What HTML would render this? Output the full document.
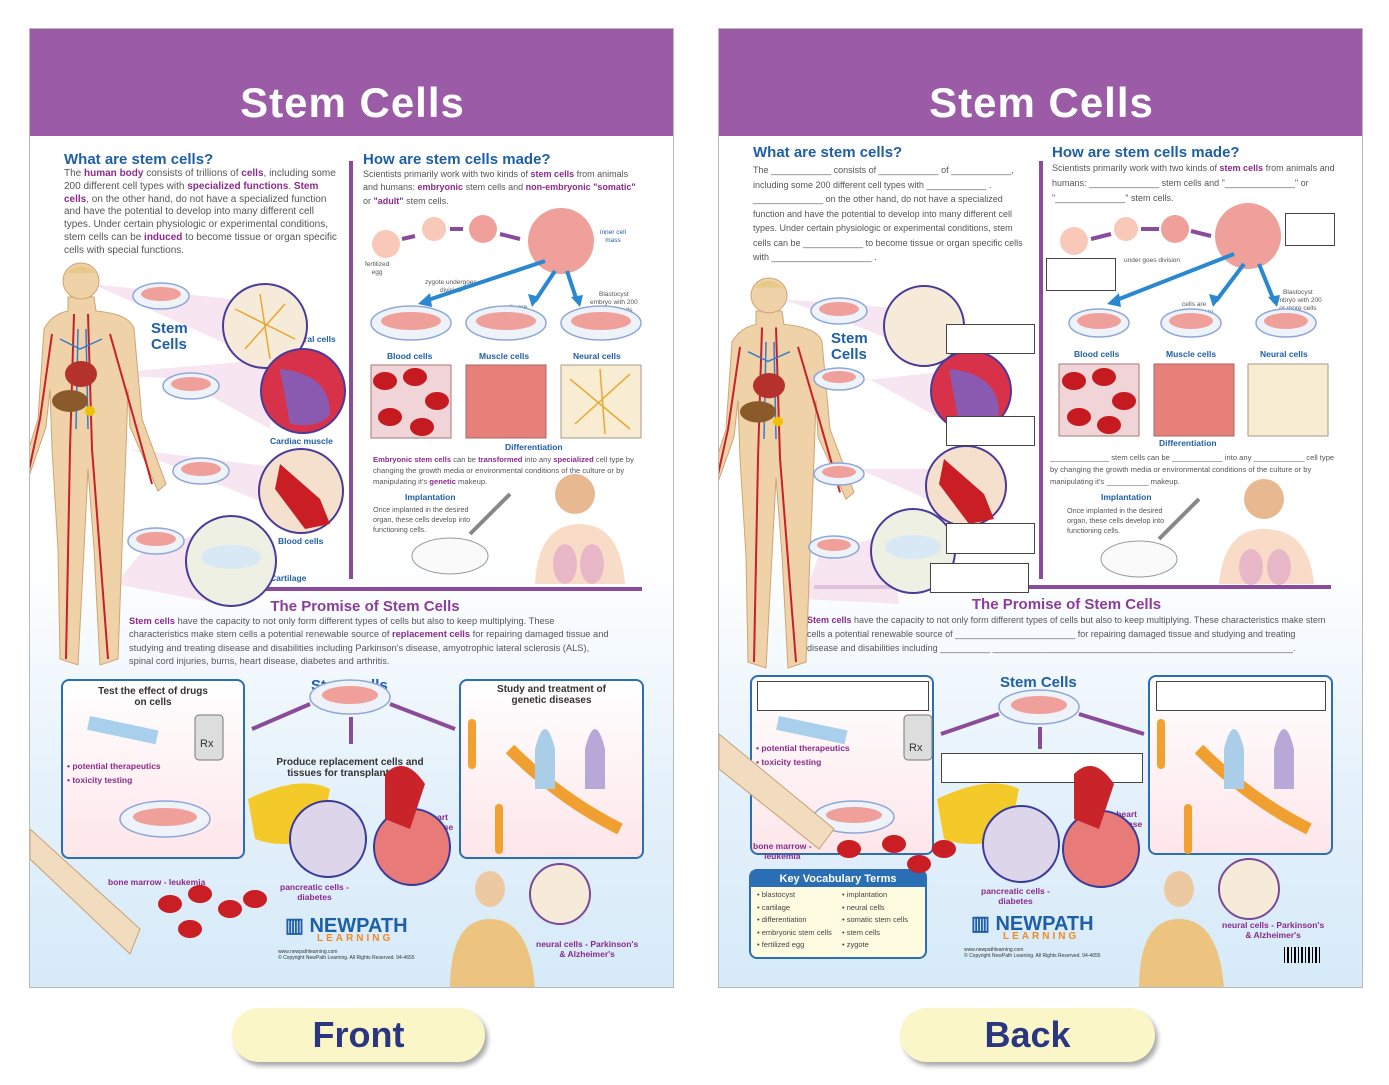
<!DOCTYPE html>
<html><head><meta charset="utf-8"><style>
*{margin:0;padding:0;box-sizing:border-box}
body{width:1389px;height:1085px;background:#fff;position:relative;overflow:hidden;font-family:"Liberation Sans",sans-serif}
.p{position:absolute;top:28px;width:645px;height:960px;border:1px solid #b9b9b9;background:linear-gradient(#fff 0,#fff 55%,#e4f1fb 80%,#d6eaf8 100%);overflow:hidden}
.hd{position:absolute;left:0;top:0;width:645px;height:107px;background:#9b5ba7}
.tt{position:absolute;left:0;width:645px;top:50px;text-align:center;color:#fff;font:bold 42px "Liberation Sans",sans-serif;letter-spacing:1px}
.a{position:absolute}
.h{color:#1f5fa6;font-weight:bold;font-size:15px}
.t{color:#555;font-size:9px;line-height:13.3px}
.t b{color:#8c2a8c}
.pr{color:#8a3e9a;font-weight:bold;font-size:15px}
.lb{color:#8a2a8a;font-size:8.5px;font-weight:bold}
.bl{color:#1f5fa6;font-size:8.5px;font-weight:bold}
.sm{color:#555;font-size:6.5px;line-height:8px;text-align:center}
.btn{position:absolute;top:1008px;height:54px;border-radius:27px;background:#fbf6c8;box-shadow:3px 4px 5px #aaa;text-align:center;font:bold 36px/54px "Liberation Sans",sans-serif;color:#2a3680}
.box{position:absolute;border:2.5px solid #2a6fb5;border-radius:8px;background:linear-gradient(#fff,#fde6ea)}
.wb{position:absolute;border:1.5px solid #444;background:#fff}
</style></head><body>

<svg width="0" height="0" style="position:absolute"><defs>
<g id="body">
<path d="M38 268 L64 268 L66 282 Q100 285 104 300 L112 390 L136 455 L128 462 L100 398 L98 360 L96 420 L92 520 L88 630 L70 636 L64 520 L58 440 L54 520 L48 636 L30 630 L28 520 L22 420 L20 360 L16 398 L-6 462 L-12 455 L8 390 L14 300 Q22 285 38 282Z" fill="#f0d2a8" stroke="#cfa474"/>
<circle cx="51" cy="252" r="18" fill="#f0d2a8" stroke="#cfa474"/>
<path d="M36 244 Q51 230 66 244Z" fill="#e9c98a"/>
<g stroke="#c8202a" stroke-width="2" fill="none"><path d="M44 285 L40 420 L36 630 M58 285 L62 420 L78 630 M22 305 L10 390 L-4 455 M80 305 L104 390 L122 455"/></g>
<g stroke="#3a7ac8" stroke-width="1.5" fill="none"><path d="M48 300 L46 400 M56 300 L58 400 M30 310 L50 320 L72 310"/></g>
<ellipse cx="51" cy="345" rx="16" ry="13" fill="#b5322c"/>
<ellipse cx="40" cy="372" rx="18" ry="11" fill="#8b5a2a"/>
<circle cx="60" cy="382" r="5" fill="#f2c200"/>
</g>
</defs></svg>

<!-- FRONT -->
<div class="p" style="left:29px">
<div class="hd"></div><div class="tt">Stem Cells</div>
<div class="a h" style="left:34px;top:122px">What are stem cells?</div>
<div class="a t" style="left:34px;top:139px;width:275px;font-size:10px;line-height:12.8px">The <b>human body</b> consists of trillions of <b>cells</b>, including some 200 different cell types with <b>specialized functions</b>. <b>Stem cells</b>, on the other hand, do not have a specialized function and have the potential to develop into many different cell types. Under certain physiologic or experimental conditions, stem cells can be <b>induced</b> to become tissue or organ specific cells with special functions.</div>
<div class="a h" style="left:333px;top:122px">How are stem cells made?</div>
<div class="a t" style="left:333px;top:139px;width:280px">Scientists primarily work with two kinds of <b>stem cells</b> from animals and humans: <b>embryonic</b> stem cells and <b>non-embryonic "somatic"</b> or <b>"adult"</b> stem cells.</div>
<div class="a pr" style="left:0;width:645px;text-align:center;top:569px;padding-left:25px">The Promise of Stem Cells</div>
<div class="a t" style="left:99px;top:586px;width:480px;font-size:9.3px"><b>Stem cells</b> have the capacity to not only form different types of cells but also to keep multiplying. These characteristics make stem cells a potential renewable source of <b>replacement cells</b> for repairing damaged tissue and studying and treating disease and disabilities including Parkinson's disease, amyotrophic lateral sclerosis (ALS), spinal cord injuries, burns, heart disease, diabetes and arthritis.</div>
<div class="box" style="left:31px;top:650px;width:184px;height:180px"></div>
<div class="box" style="left:429px;top:650px;width:185px;height:180px"></div>
<div class="a lb" style="left:31px;top:657px;width:184px;text-align:center;color:#333;font-size:10px">Test the effect of drugs<br>on cells</div>
<div class="a lb" style="left:429px;top:655px;width:185px;text-align:center;color:#333;font-size:10px">Study and treatment of<br>genetic diseases</div>
<div class="a lb" style="left:230px;top:728px;width:180px;text-align:center;color:#333;font-size:10px">Produce replacement cells and<br>tissues for transplantation</div>
<div class="a lb" style="left:37px;top:730px;line-height:14px">• potential therapeutics<br>• toxicity testing</div>
<div class="a" style="left:281px;top:648px;font-size:15px;color:#1f5fa6;font-weight:bold">Stem Cells</div>
<div class="a" style="left:121px;top:292px;font-size:15px;color:#1f5fa6;font-weight:bold;line-height:16px">Stem<br>Cells</div>
<div class="a bl" style="left:258px;top:305px">Neural cells</div>
<div class="a bl" style="left:240px;top:407px">Cardiac muscle</div>
<div class="a bl" style="left:248px;top:507px">Blood cells</div>
<div class="a bl" style="left:240px;top:544px">Cartilage</div>
<div class="a bl" style="left:357px;top:322px">Blood cells</div>
<div class="a bl" style="left:449px;top:322px">Muscle cells</div>
<div class="a bl" style="left:543px;top:322px">Neural cells</div>
<div class="a bl" style="left:475px;top:413px">Differentiation</div>
<div class="a t" style="left:343px;top:425px;width:270px;font-size:7.6px;line-height:11px"><b>Embryonic stem cells</b> can be <b>transformed</b> into any <b>specialized</b> cell type by changing the growth media or environmental conditions of the culture or by manipulating it's <b>genetic</b> makeup.</div>
<div class="a bl" style="left:375px;top:463px">Implantation</div>
<div class="a t" style="left:343px;top:476px;width:110px;font-size:7.2px;line-height:10px">Once implanted in the desired organ, these cells develop into functioning cells.</div>
<div class="a sm" style="left:335px;top:232px">fertilized<br>egg</div>
<div class="a sm" style="left:395px;top:250px">zygote undergoes<br>division</div>
<div class="a sm" style="left:570px;top:200px;color:#1f5fa6">inner cell<br>mass</div>
<div class="a sm" style="left:560px;top:262px">Blastocyst<br>embryo with 200<br>or more cells</div>
<div class="a sm" style="left:465px;top:275px">cells are<br>transferred to<br>cultured ishes</div>
<div class="a lb" style="left:78px;top:848px">bone marrow - leukemia</div>
<div class="a lb" style="left:250px;top:853px;text-align:center">pancreatic cells -<br>diabetes</div>
<div class="a lb" style="left:392px;top:783px;text-align:center">heart<br>disease</div>
<div class="a lb" style="left:506px;top:910px;text-align:center">neural cells - Parkinson's<br>&amp; Alzheimer's</div>
<div class="a" style="left:255px;top:884px;font:bold 20px 'Liberation Sans';color:#1f5fa6">▥ NEWPATH</div>
<div class="a" style="left:287px;top:904px;font:bold 10px 'Liberation Sans';color:#f08a1c;letter-spacing:3px">LEARNING</div>
<div class="a" style="left:248px;top:920px;font-size:5px;color:#333">www.newpathlearning.com<br>© Copyright NewPath Learning. All Rights Reserved. 94-4655</div>
<svg class="a" style="left:0;top:0" width="645" height="960">
<line x1="321" y1="132" x2="321" y2="550" stroke="#8a4c9a" stroke-width="4"/>
<line x1="170" y1="560" x2="612" y2="560" stroke="#8a4c9a" stroke-width="4"/>
<g fill="#f6e0ee" opacity=".8"><path d="M62 255 L200 270 L230 330 L130 285Z"/><path d="M70 345 L150 350 L240 400 L245 330Z"/><path d="M100 420 L150 440 L250 480 L260 440Z"/><path d="M85 555 L110 525 L180 500 L190 575Z"/></g>
<use href="#body"/>
<g stroke="#8fa7d8" fill="#eef3fa" stroke-width="1.5"><ellipse cx="131" cy="267" rx="28" ry="13"/><ellipse cx="161" cy="357" rx="28" ry="13"/><ellipse cx="171" cy="442" rx="28" ry="13"/><ellipse cx="126" cy="512" rx="28" ry="13"/><ellipse cx="381" cy="294" rx="40" ry="17"/><ellipse cx="476" cy="294" rx="40" ry="17"/><ellipse cx="571" cy="294" rx="40" ry="17"/><ellipse cx="320" cy="668" rx="40" ry="17"/><ellipse cx="135" cy="790" rx="45" ry="18"/></g>
<g fill="#f0a09a"><ellipse cx="131" cy="265" rx="20" ry="7"/><ellipse cx="161" cy="355" rx="20" ry="7"/><ellipse cx="171" cy="440" rx="20" ry="7"/><ellipse cx="126" cy="510" rx="20" ry="7"/><ellipse cx="381" cy="292" rx="30" ry="9"/><ellipse cx="476" cy="292" rx="30" ry="9"/><ellipse cx="571" cy="292" rx="30" ry="9"/><ellipse cx="320" cy="666" rx="28" ry="9"/><ellipse cx="135" cy="788" rx="32" ry="9"/><circle cx="531" cy="212" r="33"/><circle cx="356" cy="215" r="14" fill="#f8c8b8"/><circle cx="404" cy="200" r="12" fill="#f8c8b8"/><circle cx="453" cy="200" r="14"/></g>
<g stroke="#4a3a9a" stroke-width="2"><circle cx="235" cy="297" r="42" fill="#f6ead8"/><circle cx="273" cy="362" r="42" fill="#d8324a"/><circle cx="271" cy="462" r="42" fill="#f4e0cc"/><circle cx="201" cy="532" r="45" fill="#eef0e4"/></g>
<path d="M250 340 Q300 345 300 385 Q290 400 260 395Z" fill="#8a5ab0"/><path d="M250 435 L290 470 L300 495 L275 500 L245 460Z" fill="#c81e24"/><ellipse cx="201" cy="528" rx="30" ry="12" fill="#d8e8f4"/>
<g stroke="#e8a830" stroke-width="1.5" fill="none"><path d="M205 280 L265 310 M215 320 L255 275 M230 265 L240 330"/></g>
<rect x="341" y="336" width="80" height="73" fill="#f0d4d8" stroke="#a77"/><g fill="#c41a20"><ellipse cx="355" cy="352" rx="12" ry="9"/><ellipse cx="385" cy="348" rx="12" ry="9"/><ellipse cx="407" cy="372" rx="12" ry="9"/><ellipse cx="360" cy="388" rx="12" ry="9"/><ellipse cx="392" cy="398" rx="12" ry="9"/></g>
<rect x="436" y="336" width="80" height="73" fill="#e8807a" stroke="#a66"/>
<rect x="531" y="336" width="80" height="73" fill="#f8ecd2" stroke="#a98"/>
<g stroke="#e8a830" stroke-width="1.5" fill="none"><path d="M540 350 L600 400 M545 395 L600 345 M570 340 L575 405"/></g>
<g stroke="#2a88d0" stroke-width="4" fill="none"><line x1="515" y1="232" x2="395" y2="272"/><line x1="525" y1="242" x2="505" y2="272"/><line x1="537" y1="242" x2="547" y2="272"/></g>
<g fill="#2a88d0"><path d="M388 275 L400 264 L402 278Z"/><path d="M502 278 L498 265 L510 268Z"/><path d="M550 278 L541 268 L553 266Z"/></g>
<g stroke="#8a4c9a" stroke-width="4"><line x1="372" y1="210" x2="385" y2="207"/><line x1="420" y1="200" x2="433" y2="200"/><line x1="470" y1="205" x2="490" y2="210"/><line x1="280" y1="675" x2="222" y2="700"/><line x1="360" y1="675" x2="425" y2="700"/><line x1="321" y1="688" x2="321" y2="715"/></g>
<ellipse cx="545" cy="465" rx="20" ry="20" fill="#e8b890"/><path d="M505 555 Q508 495 550 495 Q590 495 595 555Z" fill="#f8dcc8"/><ellipse cx="535" cy="535" rx="12" ry="20" fill="#e8b8c8"/><ellipse cx="562" cy="535" rx="12" ry="20" fill="#e8b8c8"/>
<ellipse cx="420" cy="527" rx="38" ry="18" fill="#fafafa" stroke="#999"/><line x1="440" y1="505" x2="480" y2="465" stroke="#888" stroke-width="4"/>
<rect x="60" y="687" width="70" height="14" fill="#a8cfec" transform="rotate(12 60 687)"/>
<rect x="165" y="686" width="28" height="45" rx="4" fill="#ddd" stroke="#777"/><text x="170" y="718" font-size="11" fill="#333">Rx</text>
<g fill="#f4c92a"><path d="M218 770 Q270 745 300 760 L290 810 Q250 820 225 810Z"/></g>
<circle cx="298" cy="810" r="38" fill="#ddd6ea" stroke="#3a3a9a" stroke-width="2"/>
<circle cx="382" cy="818" r="38" fill="#e87a78" stroke="#3a3a9a" stroke-width="2"/>
<path d="M355 745 Q375 725 395 755 L380 800 L355 790Z" fill="#c8242a"/>
<g fill="#f2a030"><rect x="438" y="690" width="8" height="50" rx="4"/><rect x="465" y="775" width="8" height="50" rx="4"/></g>
<path d="M480 720 Q530 770 590 800" stroke="#f0a030" stroke-width="12" fill="none"/>
<path d="M505 720 q10 -40 20 0 v40 h-20z" fill="#aacde8"/><path d="M555 720 q10 -40 20 0 v40 h-20z" fill="#b8a8d8"/>
<path d="M0 800 L110 900 L100 925 L0 830Z" fill="#f2dcc0" stroke="#c9a070"/>
<g fill="#c81e24"><ellipse cx="140" cy="875" rx="12" ry="9"/><ellipse cx="170" cy="865" rx="12" ry="9"/><ellipse cx="200" cy="880" rx="12" ry="9"/><ellipse cx="160" cy="900" rx="12" ry="9"/><ellipse cx="225" cy="870" rx="12" ry="9"/></g>
<ellipse cx="460" cy="860" rx="15" ry="18" fill="#ecc9a0"/><path d="M420 960 Q420 890 460 890 Q500 890 505 960Z" fill="#ecc480"/>
<circle cx="530" cy="865" r="30" fill="#f6ead8" stroke="#7a4a9a" stroke-width="2"/>
</svg>
</div>

<!-- BACK -->
<div class="p" style="left:718px">
<div class="hd"></div><div class="tt">Stem Cells</div>
<div class="a h" style="left:34px;top:115px">What are stem cells?</div>
<div class="a t" style="left:34px;top:134px;width:280px;line-height:14.5px">The ____________ consists of ____________ of ____________, including some 200 different cell types with ____________ . ______________ on the other hand, do not have a specialized function and have the potential to develop into many different cell types. Under certain physiologic or experimental conditions, stem cells can be ____________ to become tissue or organ specific cells with ____________________ .</div>
<div class="a h" style="left:333px;top:115px">How are stem cells made?</div>
<div class="a t" style="left:333px;top:132px;width:290px;line-height:15px">Scientists primarily work with two kinds of <b>stem cells</b> from animals and humans: ______________ stem cells and "______________" or "______________" stem cells.</div>
<div class="a pr" style="left:0;width:645px;text-align:center;top:567px;padding-left:50px">The Promise of Stem Cells</div>
<div class="a t" style="left:88px;top:584px;width:520px;line-height:14px"><b>Stem cells</b> have the capacity to not only form different types of cells but also to keep multiplying. These characteristics make stem cells a potential renewable source of ________________________ for repairing damaged tissue and studying and treating disease and disabilities including __________ ____________________________________________________________.</div>
<div class="box" style="left:31px;top:646px;width:184px;height:180px"></div>
<div class="box" style="left:429px;top:646px;width:185px;height:180px"></div>
<div class="wb" style="left:38px;top:652px;width:172px;height:30px"></div>
<div class="wb" style="left:437px;top:652px;width:170px;height:30px"></div>
<div class="wb" style="left:222px;top:724px;width:202px;height:30px"></div>
<div class="a lb" style="left:37px;top:712px;line-height:14px">• potential therapeutics<br>• toxicity testing</div>
<div class="a" style="left:281px;top:645px;font-size:15px;color:#1f5fa6;font-weight:bold">Stem Cells</div>
<div class="a" style="left:112px;top:302px;font-size:15px;color:#1f5fa6;font-weight:bold;line-height:16px">Stem<br>Cells</div>
<div class="a bl" style="left:355px;top:320px">Blood cells</div>
<div class="a bl" style="left:447px;top:320px">Muscle cells</div>
<div class="a bl" style="left:541px;top:320px">Neural cells</div>
<div class="a bl" style="left:440px;top:409px">Differentiation</div>
<div class="a t" style="left:331px;top:423px;width:285px;font-size:7.6px;line-height:12px">______________ stem cells can be ____________ into any ____________ cell type by changing the growth media or environmental conditions of the culture or by manipulating it's __________ makeup.</div>
<div class="a bl" style="left:382px;top:463px">Implantation</div>
<div class="a t" style="left:348px;top:477px;width:110px;font-size:7.2px;line-height:10px">Once implanted in the desired organ, these cells develop into functioning cells.</div>
<div class="a sm" style="left:405px;top:228px">under goes division</div>
<div class="a sm" style="left:555px;top:260px">Blastocyst<br>embryo with 200<br>or more cells</div>
<div class="a sm" style="left:455px;top:272px">cells are<br>transferred to<br>cultured ishes</div>
<div class="a lb" style="left:34px;top:812px;text-align:center">bone marrow -<br>leukemia</div>
<div class="a lb" style="left:262px;top:857px;text-align:center">pancreatic cells -<br>diabetes</div>
<div class="a lb" style="left:392px;top:780px;text-align:center">heart<br>disease</div>
<div class="a lb" style="left:503px;top:891px;text-align:center">neural cells - Parkinson's<br>&amp; Alzheimer's</div>
<div class="a" style="left:30px;top:840px;width:178px;height:90px;border:2px solid #2a6fb5;border-radius:8px;background:#fffbe0"><div style="background:#2a6fb5;color:#fff;font-size:11px;font-weight:bold;text-align:center;padding:2px">Key Vocabulary Terms</div><div style="font-size:7.5px;color:#444;line-height:12.5px;padding:2px 6px;columns:2">• blastocyst<br>• cartilage<br>• differentiation<br>• embryonic stem cells<br>• fertilized egg<br>• implantation<br>• neural cells<br>• somatic stem cells<br>• stem cells<br>• zygote</div></div>
<div class="a" style="left:252px;top:882px;font:bold 20px 'Liberation Sans';color:#1f5fa6">▥ NEWPATH</div>
<div class="a" style="left:284px;top:902px;font:bold 10px 'Liberation Sans';color:#f08a1c;letter-spacing:3px">LEARNING</div>
<div class="a" style="left:245px;top:918px;font-size:5px;color:#333">www.newpathlearning.com<br>© Copyright NewPath Learning. All Rights Reserved. 94-4655</div>
<svg class="a" style="left:0;top:0" width="645" height="960">
<line x1="322" y1="132" x2="322" y2="550" stroke="#8a4c9a" stroke-width="4"/>
<line x1="95" y1="558" x2="612" y2="558" stroke="#8a4c9a" stroke-width="4"/>
<g fill="#f6e0ee" opacity=".8"><path d="M62 270 L190 280 L220 330 L120 290Z"/><path d="M70 360 L150 350 L240 400 L245 340Z"/><path d="M90 440 L140 440 L230 480 L240 440Z"/><path d="M85 570 L100 525 L170 505 L180 575Z"/></g>
<use href="#body" transform="translate(-1 22) scale(1 0.97)"/>
<g stroke="#8fa7d8" fill="#eef3fa" stroke-width="1.5"><ellipse cx="120" cy="282" rx="28" ry="13"/><ellipse cx="120" cy="350" rx="25" ry="11"/><ellipse cx="120" cy="445" rx="25" ry="11"/><ellipse cx="115" cy="518" rx="25" ry="11"/><ellipse cx="380" cy="294" rx="30" ry="14"/><ellipse cx="472" cy="294" rx="30" ry="14"/><ellipse cx="567" cy="294" rx="30" ry="14"/><ellipse cx="320" cy="678" rx="40" ry="17"/><ellipse cx="135" cy="788" rx="40" ry="16"/></g>
<g fill="#f0a09a"><ellipse cx="120" cy="280" rx="20" ry="7"/><ellipse cx="120" cy="348" rx="17" ry="6"/><ellipse cx="120" cy="443" rx="17" ry="6"/><ellipse cx="115" cy="516" rx="17" ry="6"/><ellipse cx="380" cy="292" rx="22" ry="8"/><ellipse cx="472" cy="292" rx="22" ry="8"/><ellipse cx="567" cy="292" rx="22" ry="8"/><ellipse cx="320" cy="676" rx="28" ry="9"/><ellipse cx="135" cy="786" rx="28" ry="8"/><circle cx="529" cy="207" r="33"/><circle cx="355" cy="212" r="14" fill="#f8c8b8"/><circle cx="407" cy="200" r="12" fill="#f8c8b8"/><circle cx="456" cy="200" r="14"/></g>
<g stroke="#4a3a9a" stroke-width="2"><circle cx="205" cy="297" r="40" fill="#f6ead8"/><circle cx="252" cy="362" r="40" fill="#d8324a"/><circle cx="247" cy="457" r="40" fill="#f4e0cc"/><circle cx="194" cy="522" r="42" fill="#eef0e4"/></g>
<path d="M230 340 Q280 345 280 385 Q270 400 240 395Z" fill="#8a5ab0"/><path d="M225 430 L265 465 L275 490 L250 495 L220 455Z" fill="#c81e24"/><ellipse cx="194" cy="518" rx="28" ry="12" fill="#d8e8f4"/>
<rect x="340" y="335" width="80" height="72" fill="#f0d4d8" stroke="#a77"/><g fill="#c41a20"><ellipse cx="355" cy="352" rx="12" ry="9"/><ellipse cx="385" cy="348" rx="12" ry="9"/><ellipse cx="405" cy="372" rx="12" ry="9"/><ellipse cx="360" cy="388" rx="12" ry="9"/><ellipse cx="390" cy="396" rx="12" ry="9"/></g>
<rect x="435" y="335" width="80" height="72" fill="#e8807a" stroke="#a66"/>
<rect x="529" y="335" width="80" height="72" fill="#f8ecd2" stroke="#a98"/>
<g stroke="#2a88d0" stroke-width="4" fill="none"><line x1="515" y1="225" x2="395" y2="272"/><line x1="525" y1="235" x2="497" y2="272"/><line x1="540" y1="235" x2="555" y2="272"/></g>
<g fill="#2a88d0"><path d="M388 275 L400 264 L402 278Z"/><path d="M494 278 L490 265 L502 268Z"/><path d="M558 278 L549 268 L561 266Z"/></g>
<g stroke="#8a4c9a" stroke-width="4"><line x1="372" y1="210" x2="392" y2="205"/><line x1="422" y1="200" x2="440" y2="200"/><line x1="472" y1="202" x2="492" y2="207"/><line x1="280" y1="685" x2="222" y2="705"/><line x1="360" y1="685" x2="425" y2="705"/><line x1="321" y1="698" x2="321" y2="720"/></g>
<ellipse cx="545" cy="470" rx="20" ry="20" fill="#e8b890"/><path d="M500 555 Q505 500 545 500 Q590 500 595 555Z" fill="#f8dcc8"/><ellipse cx="532" cy="538" rx="12" ry="18" fill="#e8b8c8"/><ellipse cx="560" cy="538" rx="12" ry="18" fill="#e8b8c8"/>
<ellipse cx="420" cy="530" rx="38" ry="18" fill="#fafafa" stroke="#999"/><line x1="440" y1="510" x2="480" y2="470" stroke="#888" stroke-width="4"/>
<path d="M0 705 L115 800 L100 820 L0 740Z" fill="#f2dcc0" stroke="#c9a070"/>
<rect x="60" y="687" width="70" height="14" fill="#a8cfec" transform="rotate(12 60 687)"/>
<rect x="185" y="686" width="28" height="45" rx="4" fill="#ddd" stroke="#777"/><text x="190" y="722" font-size="11" fill="#333">Rx</text>
<g fill="#f4c92a"><path d="M218 770 Q270 745 300 760 L290 810 Q250 820 225 810Z"/></g>
<circle cx="302" cy="815" r="38" fill="#ddd6ea" stroke="#3a3a9a" stroke-width="2"/>
<circle cx="382" cy="820" r="38" fill="#e87a78" stroke="#3a3a9a" stroke-width="2"/>
<path d="M355 745 Q375 725 395 755 L380 800 L355 790Z" fill="#c8242a"/>
<g fill="#f2a030"><rect x="438" y="690" width="8" height="50" rx="4"/><rect x="465" y="775" width="8" height="50" rx="4"/></g>
<path d="M480 720 Q530 770 590 800" stroke="#f0a030" stroke-width="12" fill="none"/>
<path d="M505 720 q10 -40 20 0 v40 h-20z" fill="#aacde8"/><path d="M555 720 q10 -40 20 0 v40 h-20z" fill="#b8a8d8"/>
<g fill="#c81e24"><ellipse cx="130" cy="820" rx="12" ry="9"/><ellipse cx="175" cy="815" rx="12" ry="9"/><ellipse cx="200" cy="835" rx="12" ry="9"/><ellipse cx="225" cy="820" rx="12" ry="9"/></g>
<ellipse cx="460" cy="860" rx="15" ry="18" fill="#ecc9a0"/><path d="M420 960 Q420 890 460 890 Q500 890 505 960Z" fill="#ecc480"/>
<circle cx="530" cy="860" r="30" fill="#f6ead8" stroke="#7a4a9a" stroke-width="2"/>
<g fill="#000"><rect x="565" y="918" width="1" height="16"/><rect x="568" y="918" width="2" height="16"/><rect x="572" y="918" width="1" height="16"/><rect x="575" y="918" width="2" height="16"/><rect x="579" y="918" width="1" height="16"/><rect x="582" y="918" width="2" height="16"/><rect x="586" y="918" width="1" height="16"/><rect x="589" y="918" width="2" height="16"/><rect x="593" y="918" width="1" height="16"/><rect x="596" y="918" width="2" height="16"/><rect x="600" y="918" width="1" height="16"/></g>
</svg>
<div class="wb" style="left:227px;top:295px;width:89px;height:30px"></div>
<div class="wb" style="left:227px;top:387px;width:89px;height:30px"></div>
<div class="wb" style="left:227px;top:494px;width:89px;height:31px"></div>
<div class="wb" style="left:211px;top:534px;width:99px;height:30px"></div>
<div class="wb" style="left:327px;top:229px;width:70px;height:33px"></div>
<div class="wb" style="left:566px;top:184px;width:50px;height:33px"></div>
</div>

<div class="btn" style="left:232px;width:253px">Front</div>
<div class="btn" style="left:900px;width:255px">Back</div>
</body></html>
